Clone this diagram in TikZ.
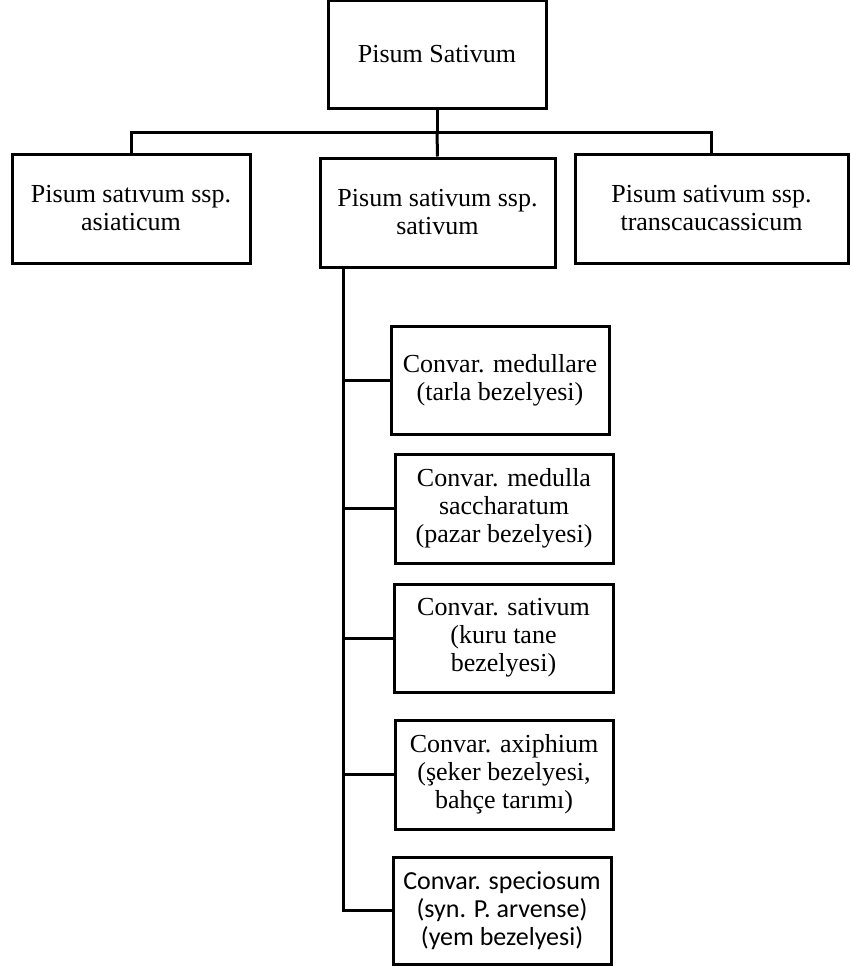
\documentclass[tikz,border=0pt]{standalone}
\usepackage{fontspec}
\setmainfont{Liberation Serif}
\newfontfamily\calibrifont{Carlito}

\tikzset{
  taxon/.style={draw=black, line width=3pt, rectangle, align=center, inner sep=2pt,
    font=\fontsize{26}{28}\selectfont},
  link/.style={draw=black, line width=3pt}
}

\begin{document}
\begin{tikzpicture}[x=1pt, y=-1pt]

 \useasboundingbox (0,0) rectangle (851,966);

 %%%%%%%%%% Points pour travailler %%%%%%%%%%
 \coordinate (bus) at (437,132);
 \coordinate (trunk) at (343,267);

 % Species
 \node[taxon, minimum width=218, minimum height=107] (pisum) at (437,54.5) {Pisum Sativum};

 % Subspecies
 \node[taxon, minimum width=238, minimum height=109] (asiat) at (131,208.5) {Pisum satıvum ssp.\\asiaticum};
 \node[taxon, minimum width=235, minimum height=109] (sativ) at (437.5,212.5) {Pisum sativum ssp.\\sativum};
 \node[taxon, minimum width=273, minimum height=109] (trans) at (711.5,208.5) {Pisum sativum ssp.\\transcaucassicum};

 % Convarieties
 \node[taxon, minimum width=218, minimum height=108] (medul) at (500,380) {Convar. medullare\\(tarla bezelyesi)};
 \node[taxon, minimum width=218, minimum height=109] (sacch) at (504,508.5) {Convar. medulla\\saccharatum\\(pazar bezelyesi)};
 \node[taxon, minimum width=219, minimum height=108] (kuru) at (503.5,638) {Convar. sativum\\(kuru tane\\bezelyesi)};
 \node[taxon, minimum width=218, minimum height=109] (axiph) at (504,774.5) {Convar. axiphium\\(şeker bezelyesi,\\bahçe tarımı)};
 \node[taxon, minimum width=218, minimum height=107, font=\calibrifont\fontsize{26}{28}\selectfont] (specio) at (502,910.5) {Convar. speciosum\\(syn. P. arvense)\\(yem bezelyesi)};

 % Tree of the subspecies
 \draw[link] (pisum.south) -- (bus);
 \draw[link] (asiat.north) -- (asiat.north |- bus) -- (trans.north |- bus) -- (trans.north);
 \draw[link] (bus) -- (sativ.north);

 % Trunk of the convarieties
 \draw[link] (trunk) |- (specio.west);
 \draw[link] (trunk |- medul.west) -- (medul.west);
 \draw[link] (trunk |- sacch.west) -- (sacch.west);
 \draw[link] (trunk |- kuru.west) -- (kuru.west);
 \draw[link] (trunk |- axiph.west) -- (axiph.west);

\end{tikzpicture}
\end{document}
